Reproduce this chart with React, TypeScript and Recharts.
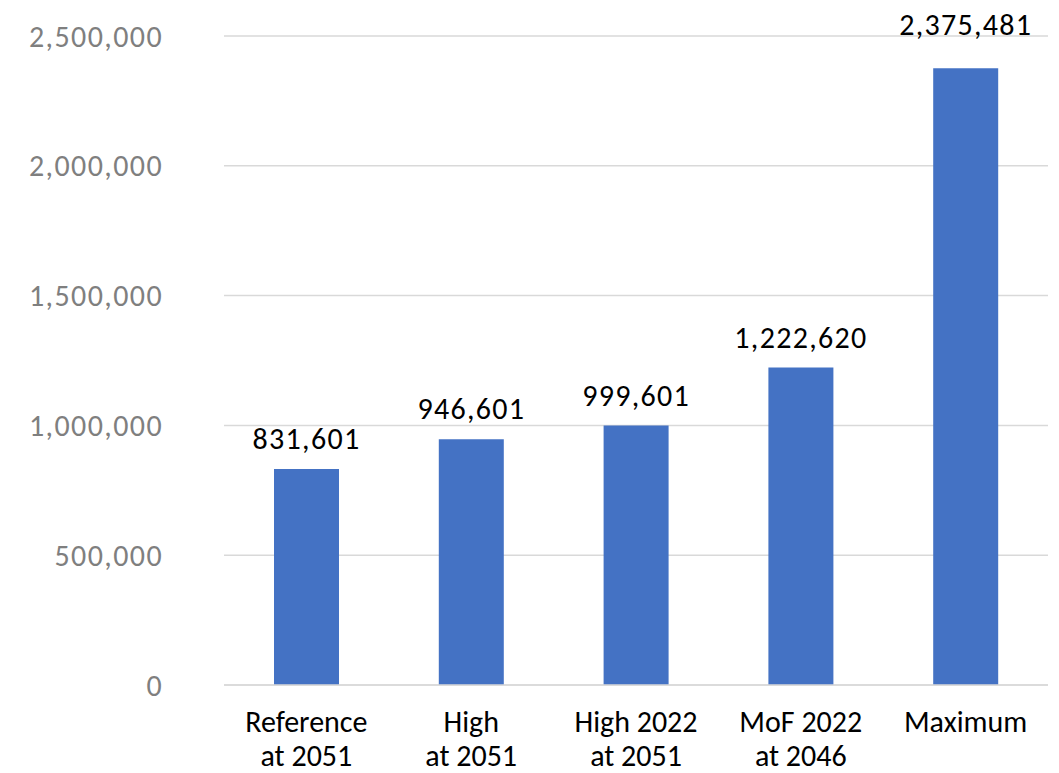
import { Bar, BarChart, CartesianGrid, LabelList, XAxis, YAxis } from "recharts";

const scenarios = [
  "Reference\nat 2051",
  "High\nat 2051",
  "High 2022\nat 2051",
  "MoF 2022\nat 2046",
  "Maximum",
];
const totals = [831601, 946601, 999601, 1222620, 2375481];
const yTicks = [0, 500000, 1000000, 1500000, 2000000, 2500000];

const data = scenarios.map((name, i) => ({ name, value: totals[i] }));

const FONT = "Calibri, Carlito, Lato, sans-serif";
const fmt = (v: number) => v.toLocaleString("en-US");

function ScenarioTick({ x, y, payload }: any) {
  const lines = String(payload.value).split("\n");
  return (
    <text x={x} y={y} textAnchor="middle" fill="#000" fontSize={30} fontFamily={FONT}>
      {lines.map((line, i) => (
        <tspan key={i} x={x} y={y + 47 + i * 34}>
          {line}
        </tspan>
      ))}
    </text>
  );
}

// value label above each bar; the tallest one sits a little higher, clear of the top gridline
function ValueLabel({ x, y, width, value, index }: any) {
  const lift = index === totals.length - 1 ? 33 : 20;
  return (
    <text
      x={Number(x) + Number(width) / 2}
      y={Number(y) - lift}
      textAnchor="middle"
      fill="#000"
      fontSize={30}
      letterSpacing={1.3}
      fontFamily={FONT}
    >
      {fmt(Number(value))}
    </text>
  );
}

export default function App() {
  return (
    <div style={{ position: "absolute", left: 0, top: 0, background: "#fff" }}>
      <BarChart
        width={1059}
        height={773}
        data={data}
        margin={{ top: 36, right: 11, bottom: 0, left: 0 }}
      >
        <CartesianGrid vertical={false} stroke="#d9d9d9" strokeWidth={1.5} />
        <XAxis
          dataKey="name"
          interval={0}
          height={88}
          tickLine={false}
          tickSize={0}
          tickMargin={0}
          axisLine={{ stroke: "#d9d9d9", strokeWidth: 1.5 }}
          tick={<ScenarioTick />}
        />
        <YAxis
          width={224}
          domain={[0, 2500000]}
          ticks={yTicks}
          tickFormatter={fmt}
          axisLine={false}
          tickLine={false}
          tickMargin={55}
          tick={{ fill: "#7f7f7f", fontSize: 30, fontFamily: FONT, letterSpacing: 1.4 }}
        />
        <Bar dataKey="value" fill="#4472c4" barSize={65} isAnimationActive={false}>
          <LabelList dataKey="value" content={<ValueLabel />} />
        </Bar>
      </BarChart>
    </div>
  );
}
